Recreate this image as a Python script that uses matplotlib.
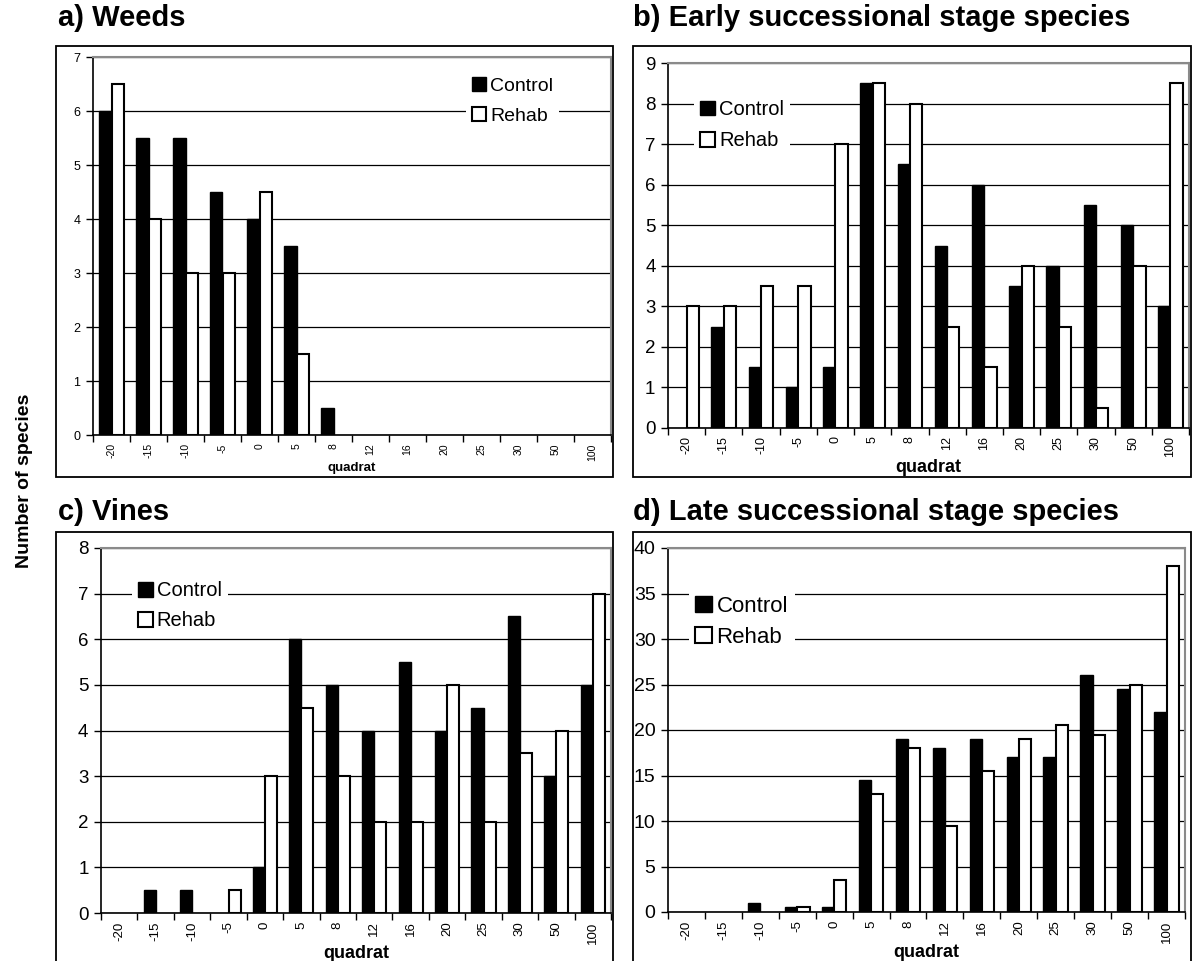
import matplotlib
matplotlib.use("Agg")
import matplotlib.pyplot as plt
from matplotlib.patches import Patch, Rectangle
import numpy as np

plt.rcParams['font.family'] = ['Liberation Sans', 'DejaVu Sans']

quadrats = ['-20', '-15', '-10', '-5', '0', '5', '8', '12', '16', '20', '25', '30', '50', '100']

weeds_control = [6, 5.5, 5.5, 4.5, 4, 3.5, 0.5, 0, 0, 0, 0, 0, 0, 0]
weeds_rehab = [6.5, 4, 3, 3, 4.5, 1.5, 0, 0, 0, 0, 0, 0, 0, 0]

early_control = [0, 2.5, 1.5, 1, 1.5, 8.5, 6.5, 4.5, 6, 3.5, 4, 5.5, 5, 3]
early_rehab = [3, 3, 3.5, 3.5, 7, 8.5, 8, 2.5, 1.5, 4, 2.5, 0.5, 4, 8.5]

vines_control = [0, 0.5, 0.5, 0, 1, 6, 5, 4, 5.5, 4, 4.5, 6.5, 3, 5]
vines_rehab = [0, 0, 0, 0.5, 3, 4.5, 3, 2, 2, 5, 2, 3.5, 4, 7]

late_control = [0, 0, 1, 0.5, 0.5, 14.5, 19, 18, 19, 17, 17, 26, 24.5, 22]
late_rehab = [0, 0, 0, 0.5, 3.5, 13, 18, 9.5, 15.5, 19, 20.5, 19.5, 25, 38]

W, H = 1192, 961
fig = plt.figure(figsize=(W / 100, H / 100), dpi=100)


def px_axes(x0, x1, y_top, y_bot):
    return fig.add_axes([x0 / W, 1 - y_bot / H, (x1 - x0) / W, (y_bot - y_top) / H])


def nonzero(vals):
    # empty quadrats get no bar at all (not even an outline on the axis)
    v = np.asarray(vals, dtype=float)
    return np.where(v == 0, np.nan, v)


def panel(ax, control, rehab, ymax, ystep, ytick_fs, xtick_fs, xlab_fs,
          leg_fs, leg_anchor, leg_space):
    x = np.arange(len(quadrats))
    w = 0.333
    ax.bar(x - w / 2, nonzero(control), w, color='black', edgecolor='black',
           linewidth=1, zorder=3)
    ax.bar(x + w / 2, nonzero(rehab), w, color='white', edgecolor='black',
           linewidth=1.5, zorder=3)
    ax.set_xlim(-0.5, len(quadrats) - 0.5)
    ax.set_ylim(0, ymax)
    ax.set_yticks(np.arange(0, ymax + ystep / 2, ystep))
    ax.yaxis.grid(True, color='black', linewidth=0.9, zorder=0)
    ax.set_axisbelow(True)
    ax.set_xticks(x)
    ax.set_xticklabels(quadrats, rotation=90, fontsize=xtick_fs)
    ax.set_xticks(np.arange(-0.5, len(quadrats)), minor=True)
    ax.tick_params(axis='x', which='major', length=0, pad=6)
    ax.tick_params(axis='x', which='minor', length=5, width=1, direction='out')
    ax.tick_params(axis='y', length=5, width=1, labelsize=ytick_fs, pad=4)
    for s in ('top', 'right'):
        ax.spines[s].set_color('#8a8a8a')
        ax.spines[s].set_linewidth(1.5)
    for s in ('left', 'bottom'):
        ax.spines[s].set_linewidth(1.2)
    ax.set_xlabel('quadrat', fontsize=xlab_fs, fontweight='bold', labelpad=1)
    handles = [Patch(facecolor='black', edgecolor='black', label='Control'),
               Patch(facecolor='white', edgecolor='black', linewidth=1.5, label='Rehab')]
    leg = ax.legend(handles=handles, loc='upper left', bbox_to_anchor=leg_anchor,
                    fontsize=leg_fs, frameon=True, fancybox=False, edgecolor='none',
                    facecolor='white', framealpha=1, handlelength=0.75, handleheight=0.75,
                    handletextpad=0.2, labelspacing=leg_space, borderpad=0.3,
                    borderaxespad=0)
    leg.set_zorder(5)


# outer chart boxes
for bx0, by0, bx1, by1 in [(56, 46, 613, 477), (633, 46, 1191, 477),
                           (56, 532, 613, 975), (633, 532, 1191, 975)]:
    fig.add_artist(Rectangle((bx0 / W, 1 - by1 / H), (bx1 - bx0) / W, (by1 - by0) / H,
                             transform=fig.transFigure, fill=False,
                             edgecolor='black', linewidth=1.3))

ax_a = px_axes(93, 611, 57, 435)
panel(ax_a, weeds_control, weeds_rehab, 7, 1, 9, 7.5, 9.5, 14, (0.72, 0.962), 0.62)

ax_b = px_axes(668, 1189, 63, 428)
panel(ax_b, early_control, early_rehab, 9, 1, 13.5, 9, 13, 14.5, (0.05, 0.915), 0.6)

ax_c = px_axes(101, 611, 548, 913)
panel(ax_c, vines_control, vines_rehab, 8, 1, 13.5, 9.5, 13, 14.5, (0.06, 0.925), 0.55)

ax_d = px_axes(668, 1185, 548, 912)
panel(ax_d, late_control, late_rehab, 40, 5, 14, 9.5, 13, 16, (0.04, 0.887), 0.45)

title_kw = dict(fontsize=21, fontweight='bold', va='baseline', ha='left')
fig.text(58 / W, 1 - 26 / H, 'a) Weeds', **title_kw)
fig.text(633 / W, 1 - 26 / H, 'b) Early successional stage species', **title_kw)
fig.text(58 / W, 1 - 520 / H, 'c) Vines', **title_kw)
fig.text(633 / W, 1 - 520 / H, 'd) Late successional stage species', **title_kw)

fig.text(25 / W, 0.5, 'Number of species', rotation=90, fontsize=14,
         fontweight='bold', ha='center', va='center')

fig.savefig('out.png', dpi=100)
